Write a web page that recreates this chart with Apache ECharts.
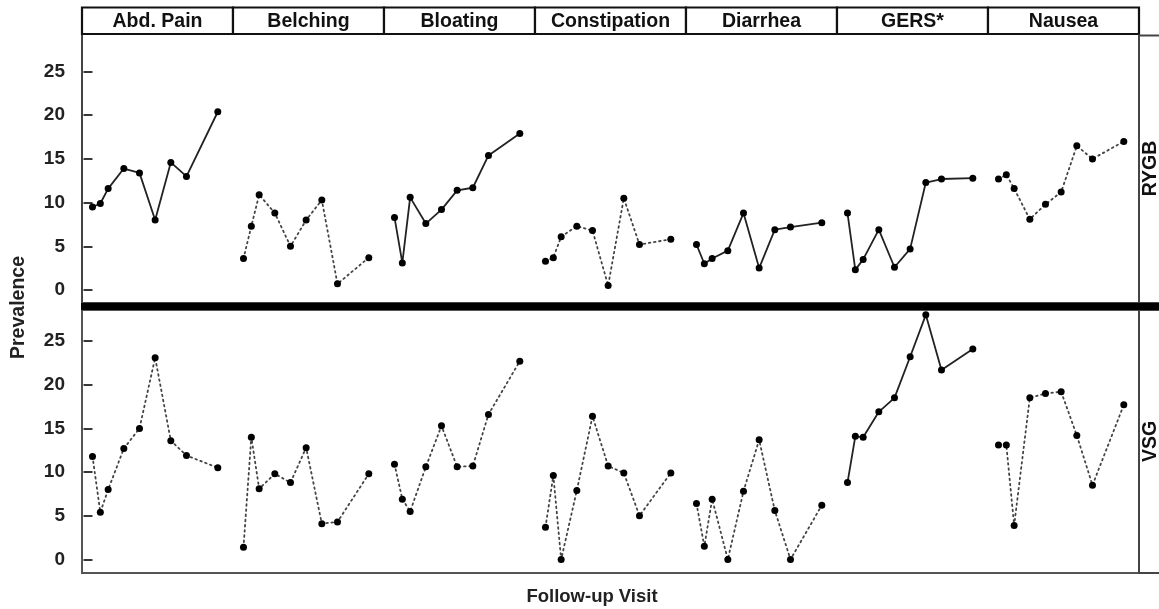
<!DOCTYPE html>
<html><head><meta charset="utf-8">
<script src="https://cdn.jsdelivr.net/npm/echarts@6.0.0/dist/echarts.min.js"></script>
<style>html,body{margin:0;padding:0;background:#fff}#c{width:1159px;height:609px}</style>
</head><body><div id="c"></div>
<script>
// ---- data ----
const symptoms = ['Abd. Pain','Belching','Bloating','Constipation','Diarrhea','GERS*','Nausea'];
const groups = ['RYGB','VSG'];
const visits = [0, 0.5, 1, 2, 3, 4, 5, 6, 8];
const yTicks = [0, 5, 10, 15, 20, 25];

const rygbAbdPain     = [9.5, 9.9, 11.6, 13.9, 13.4, 8.0, 14.6, 13.0, 20.4];
const rygbBelching    = [3.6, 7.3, 10.9, 8.8, 5.0, 8.0, 10.3, 0.7, 3.7];
const rygbBloating    = [8.3, 3.1, 10.6, 7.6, 9.2, 11.4, 11.7, 15.4, 17.9];
const rygbConstipation= [3.3, 3.7, 6.1, 7.3, 6.8, 0.5, 10.5, 5.2, 5.8];
const rygbDiarrhea    = [5.2, 3.0, 3.6, 4.5, 8.8, 2.5, 6.9, 7.2, 7.7];
const rygbGERS        = [8.8, 2.3, 3.5, 6.9, 2.6, 4.7, 12.3, 12.7, 12.8];
const rygbNausea      = [12.7, 13.2, 11.6, 8.1, 9.8, 11.2, 16.5, 15.0, 17.0];

const vsgAbdPain      = [11.8, 5.4, 8.0, 12.7, 15.0, 23.1, 13.6, 11.9, 10.5];
const vsgBelching     = [1.4, 14.0, 8.1, 9.8, 8.8, 12.8, 4.1, 4.3, 9.8];
const vsgBloating     = [10.9, 6.9, 5.5, 10.6, 15.3, 10.6, 10.7, 16.6, 22.7];
const vsgConstipation = [3.7, 9.6, 0.0, 7.9, 16.4, 10.7, 9.9, 5.0, 9.9];
const vsgDiarrhea     = [6.4, 1.5, 6.9, 0.0, 7.8, 13.7, 5.6, 0.0, 6.2];
const vsgGERS         = [8.8, 14.1, 14.0, 16.9, 18.5, 23.2, 28.0, 21.7, 24.1];
const vsgNausea       = [13.1, 13.1, 3.9, 18.5, 19.0, 19.2, 14.2, 8.5, 17.7];

// significant trend (solid) vs not (dotted)
const rygbSolid = [true, false, true, false, true, true, false];
const vsgSolid  = [false, false, false, false, false, true, false];

const rygbData = [rygbAbdPain, rygbBelching, rygbBloating, rygbConstipation, rygbDiarrhea, rygbGERS, rygbNausea];
const vsgData  = [vsgAbdPain, vsgBelching, vsgBloating, vsgConstipation, vsgDiarrhea, vsgGERS, vsgNausea];

// ---- layout ----
const FONT = '"Liberation Sans", Arial, sans-serif';
const L = 82, PW = 151, TOP1 = 34, PH = 269.5;
const TOP2 = TOP1 + PH;
const RIGHT = L + PW * 7;

const grids = [], xAxes = [], yAxes = [], series = [];
[rygbData, vsgData].forEach((rowData, r) => {
  const solid = r === 0 ? rygbSolid : vsgSolid;
  rowData.forEach((vals, c) => {
    const idx = grids.length;
    grids.push({left: L + c * PW, top: r === 0 ? TOP1 : TOP2, width: PW, height: PH, containLabel: false});
    xAxes.push({type: 'value', gridIndex: idx, min: -0.67, max: 8.97, show: false});
    yAxes.push({
      type: 'value', gridIndex: idx, min: -1.55, max: 29.3,
      axisLine: {show: false}, splitLine: {show: false},
      axisTick: {show: c === 0, customValues: yTicks, length: 9, lineStyle: {color: '#222', width: 1.8}},
      axisLabel: {show: c === 0, customValues: yTicks, margin: 17, fontSize: 19, fontWeight: 'bold',
                  color: '#222', fontFamily: FONT}
    });
    series.push({
      type: 'line', xAxisIndex: idx, yAxisIndex: idx, clip: false,
      data: visits.map((v, i) => [v, vals[i]]),
      symbol: 'circle', symbolSize: 7, showSymbol: true,
      itemStyle: {color: '#000'},
      lineStyle: solid[c] ? {color: '#222', width: 1.8, type: 'solid'}
                          : {color: '#444', width: 1.8, type: [1.6, 3.6], cap: 'round'},
      emphasis: {disabled: true}, animation: false
    });
  });
});

const graphics = [];
// panel frames
graphics.push({type: 'rect', shape: {x: L, y: TOP1, width: RIGHT - L, height: 303 - TOP1},
  style: {fill: 'none', stroke: '#444', lineWidth: 2}, z: 1});
graphics.push({type: 'rect', shape: {x: L, y: 310, width: RIGHT - L, height: 573 - 310},
  style: {fill: 'none', stroke: '#555', lineWidth: 2}, z: 1});
// top strips
symptoms.forEach((s, c) => {
  graphics.push({type: 'rect', shape: {x: L + c * PW, y: 7.5, width: PW, height: 26.5},
    style: {fill: '#fff', stroke: '#111', lineWidth: 2.2}, z: 2});
  graphics.push({type: 'text', x: L + c * PW + PW / 2, y: 21.5, z: 3,
    style: {text: s, fill: '#111', font: 'bold 19.5px ' + FONT, textAlign: 'center', textVerticalAlign: 'middle'}});
});
// right strips
graphics.push({type: 'rect', shape: {x: RIGHT, y: 35.5, width: 40, height: 303 - 35.5},
  style: {fill: '#fff', stroke: '#444', lineWidth: 2}, z: 2});
graphics.push({type: 'rect', shape: {x: RIGHT, y: 310, width: 40, height: 573 - 310},
  style: {fill: '#fff', stroke: '#444', lineWidth: 2}, z: 2});
graphics.push({type: 'text', x: 1151, y: (TOP1 + 303) / 2, rotation: Math.PI / 2, z: 3,
  style: {text: groups[0], fill: '#111', font: 'bold 19.5px ' + FONT, textAlign: 'center', textVerticalAlign: 'middle'}});
graphics.push({type: 'text', x: 1151, y: (310 + 573) / 2, rotation: Math.PI / 2, z: 3,
  style: {text: groups[1], fill: '#111', font: 'bold 19.5px ' + FONT, textAlign: 'center', textVerticalAlign: 'middle'}});
// thick separator bar
graphics.push({type: 'rect', shape: {x: L - 1, y: 303, width: 1200 - L, height: 7},
  style: {fill: '#000'}, z: 4});
// axis titles
graphics.push({type: 'text', x: 19, y: 307.5, rotation: Math.PI / 2, z: 3,
  style: {text: 'Prevalence', fill: '#222', font: 'bold 19.5px ' + FONT, textAlign: 'center', textVerticalAlign: 'middle'}});
graphics.push({type: 'text', x: 592, y: 597, z: 3,
  style: {text: 'Follow-up Visit', fill: '#222', font: 'bold 18.5px ' + FONT, textAlign: 'center', textVerticalAlign: 'middle'}});

const chart = echarts.init(document.getElementById('c'), null, {renderer: 'canvas'});
chart.setOption({
  animation: false,
  backgroundColor: '#fff',
  grid: grids, xAxis: xAxes, yAxis: yAxes, series: series,
  graphic: {elements: graphics}
});
</script>
</body></html>
